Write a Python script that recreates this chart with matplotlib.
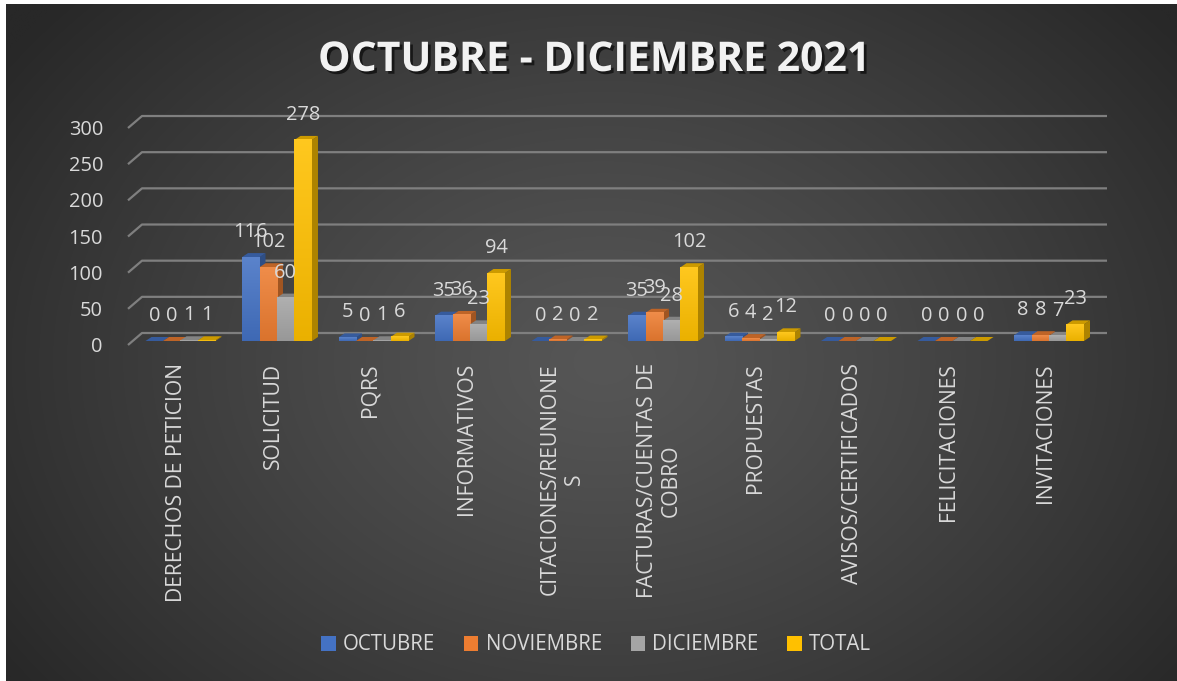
import numpy as np
import matplotlib
matplotlib.use("Agg")
import matplotlib.pyplot as plt
from matplotlib.patches import Polygon, Patch
from matplotlib.colors import LinearSegmentedColormap, to_rgb
import matplotlib.patheffects as pe

# ---------------- data ----------------
title = "OCTUBRE - DICIEMBRE 2021"
categories = ["DERECHOS DE PETICION", "SOLICITUD", "PQRS", "INFORMATIVOS",
              "CITACIONES/REUNIONE\nS", "FACTURAS/CUENTAS DE\nCOBRO", "PROPUESTAS",
              "AVISOS/CERTIFICADOS", "FELICITACIONES", "INVITACIONES"]
series_names = ["OCTUBRE", "NOVIEMBRE", "DICIEMBRE", "TOTAL"]
octubre   = [0, 116, 5, 35, 0, 35, 6, 0, 0, 8]
noviembre = [0, 102, 0, 36, 2, 39, 4, 0, 0, 8]
diciembre = [1, 60, 1, 23, 0, 28, 2, 0, 0, 7]
total     = [1, 278, 6, 94, 2, 102, 12, 0, 0, 23]
yticks = [0, 50, 100, 150, 200, 250, 300]
colors = ["#4472C4", "#ED7D31", "#A5A5A5", "#FFC000"]

series = [octubre, noviembre, diciembre, total]

# ---------------- figure ----------------
W, H = 1177, 681
DPI = 100
plt.rcParams['font.family'] = ['Open Sans', 'DejaVu Sans']
fig = plt.figure(figsize=(W / DPI, H / DPI), dpi=DPI, facecolor="white")

# background radial gradient
bg = fig.add_axes([6 / W, 0, 1 - 6 / W, 1 - 4 / H])
bg.set_axis_off()
yy, xx = np.mgrid[0:H, 0:W]
r = np.sqrt(((xx - 600) / (W * 0.62)) ** 2 + ((yy - 360) / (H * 0.80)) ** 2)
r = np.clip(r, 0, 1)
lum = (0x56 - (0x56 - 0x28) * r ** 1.2) / 255.0
img = np.dstack([lum, lum, lum])
bg.imshow(img, aspect="auto", extent=[0, 1, 0, 1], origin="upper")
bg.set_xlim(0, 1)
bg.set_ylim(0, 1)

# main axes (bar plane)
ax_l, ax_r, ax_t, ax_b = 128, 1107, 117, 345
ax = fig.add_axes([ax_l / W, 1 - ax_b / H, (ax_r - ax_l) / W, (ax_b - ax_t) / H])
ax.patch.set_alpha(0)
for s in ax.spines.values():
    s.set_visible(False)
xlim = (-0.544, 9.601)
ylim = (-5.53, 309.7)
ax.set_xlim(*xlim)
ax.set_ylim(*ylim)

sx = (xlim[1] - xlim[0]) / (ax_r - ax_l)   # data units per pixel (x)
sy = (ylim[1] - ylim[0]) / (ax_b - ax_t)   # data units per pixel (y)

grid_col = "#7f7f7f"
text_col = "#d9d9d9"
fs = 14.4

# gridlines: slant from front-left to back wall, then back wall line
for v in yticks:
    yf = v - 4 * sy
    yb = v + 8 * sy
    xb = xlim[0] + 14 * sx
    ax.plot([xlim[0], xb, xlim[1]], [yf, yb, yb], color=grid_col, lw=1.6,
            solid_capstyle="butt", zorder=1, clip_on=False)
    ax.annotate(str(v), xy=(xlim[0], v), xytext=(-25, -6), textcoords="offset pixels",
                ha="right", va="center", color=text_col, fontsize=fs, annotation_clip=False)

# bars with 3D faces
bw = 0.1813
ddx = 6 * sx
ddy = 4 * sy


def shade(c, f):
    rgb = np.array(to_rgb(c))
    return tuple(np.clip(rgb * f, 0, 1))


def lighten(c, f):
    rgb = np.array(to_rgb(c))
    return tuple(np.clip(rgb + (1 - rgb) * f, 0, 1))


grad = np.linspace(0, 1, 64).reshape(-1, 1)
z = 3
for i in range(len(categories)):
    for k, vals in enumerate(series):
        v = vals[i]
        c = colors[k]
        x0 = i + (k - 2) * bw
        x1 = x0 + bw
        side = Polygon([(x1, 0), (x1 + ddx, ddy), (x1 + ddx, v + ddy), (x1, v)],
                       closed=True, facecolor=shade(c, 0.68), edgecolor="none", zorder=z)
        top = Polygon([(x0, v), (x1, v), (x1 + ddx, v + ddy), (x0 + ddx, v + ddy)],
                      closed=True, facecolor=shade(c, 0.80), edgecolor="none", zorder=z)
        ax.add_patch(side)
        ax.add_patch(top)
        if v > 0:
            cmap = LinearSegmentedColormap.from_list("g", [shade(c, 0.92), lighten(c, 0.12)])
            ax.imshow(grad, extent=[x0, x1, 0, v], origin="lower", cmap=cmap,
                      aspect="auto", zorder=z + 0.1, interpolation="bilinear")
        z += 0.5
        ax.annotate(str(v), xy=(x0 + bw / 2, v), xytext=(0, 25), textcoords="offset pixels",
                    ha="center", va="center", color=text_col, fontsize=fs, zorder=100)

ax.set_xlim(*xlim)
ax.set_ylim(*ylim)
ax.set_aspect("auto")
ax.set_yticks([])
ax.set_xticks(np.arange(len(categories)) - 0.04)
ax.set_xticklabels(categories, rotation=90, color=text_col, fontsize=15.2,
                   va="top", ha="center", multialignment="center")
ax.tick_params(axis="x", length=0, pad=13)

# legend
handles = [Patch(facecolor=c, edgecolor="none", label=n) for c, n in zip(colors, series_names)]
leg = fig.legend(handles=handles, loc="center", bbox_to_anchor=(0.5065, 1 - 645 / H), ncol=4,
                 frameon=False, fontsize=14.8, handlelength=0.7, handleheight=0.7,
                 handletextpad=0.35, columnspacing=1.4, labelcolor=text_col)

# title
fig.text(594 / W, 1 - 71 / H, title, ha="center", va="baseline", fontsize=29.5,
         fontweight="bold", color="#f2f2f2",
         path_effects=[pe.withSimplePatchShadow(offset=(2, -2), shadow_rgbFace="black", alpha=0.6)])

fig.savefig("out.png", dpi=DPI, facecolor=fig.get_facecolor())
